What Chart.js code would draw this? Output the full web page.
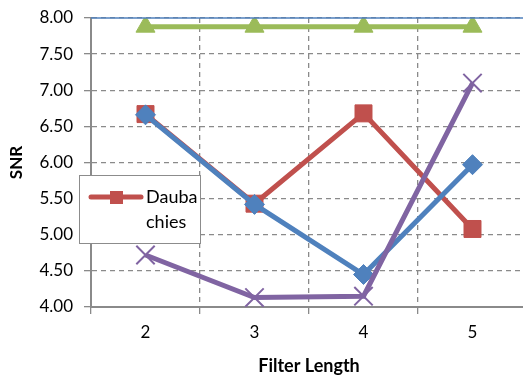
<!DOCTYPE html>
<html>
<head>
<meta charset="utf-8">
<script src="https://cdn.jsdelivr.net/npm/chart.js@4/dist/chart.umd.min.js"></script>
<style>
  html, body { margin: 0; padding: 0; background: #fff; overflow: hidden; }
  #wrap { position: relative; width: 523px; height: 377px; overflow: hidden; }
</style>
</head>
<body>
<div id="wrap"><canvas id="c" width="527" height="377"></canvas></div>
<script>
// Filter lengths on the x axis
const filterLengths = ['2', '3', '4', '5'];

// SNR per filter length for each wavelet family
const seriesDiamond = [6.66, 5.42, 4.45, 5.97];
const seriesDaubachies = [6.67, 5.43, 6.68, 5.08];
const seriesTriangle = [7.88, 7.88, 7.88, 7.88];
const seriesCross = [4.72, 4.13, 4.15, 7.10];

const legendLabel = ['Dauba', 'chies'];

const BLUE = '#4F81BD', RED = '#C0504D', GREEN = '#9BBB59', PURPLE = '#8064A2';
const FONT = "Lato, 'Open Sans', 'Liberation Sans', sans-serif";

// Boxed legend sitting inside the plot on the left
const insideLegend = {
  id: 'insideLegend',
  afterDraw(chart) {
    const ctx = chart.ctx;
    ctx.save();
    ctx.fillStyle = '#fff';
    ctx.fillRect(79, 175, 121, 68);
    ctx.strokeStyle = '#8c8c8c';
    ctx.lineWidth = 1;
    ctx.strokeRect(79.5, 175.5, 121, 68);
    ctx.strokeStyle = RED;
    ctx.lineWidth = 5;
    ctx.lineCap = 'round';
    ctx.beginPath();
    ctx.moveTo(91, 197);
    ctx.lineTo(141, 197);
    ctx.stroke();
    ctx.fillStyle = RED;
    ctx.fillRect(110, 191, 13, 13);
    ctx.fillStyle = '#000';
    ctx.font = '18px ' + FONT;
    ctx.textBaseline = 'middle';
    ctx.textAlign = 'left';
    ctx.fillText(legendLabel[0], 146, 197);
    ctx.fillText(legendLabel[1], 146, 222);
    ctx.restore();
  }
};

// Plot area border line along the top (8.00) edge
const topEdge = {
  id: 'topEdge',
  afterDatasetsDraw(chart) {
    const { ctx, chartArea } = chart;
    const y = chart.scales.y.getPixelForValue(8);
    ctx.save();
    ctx.strokeStyle = BLUE;
    ctx.lineWidth = 1.5;
    ctx.beginPath();
    ctx.moveTo(chartArea.left, y);
    ctx.lineTo(chartArea.right, y);
    ctx.stroke();
    ctx.restore();
  }
};

const common = { borderWidth: 5, pointBorderWidth: 1, tension: 0, fill: false };

new Chart(document.getElementById('c'), {
  type: 'line',
  data: {
    labels: filterLengths,
    datasets: [
      Object.assign({}, common, {
        label: 'Cross', data: seriesCross, order: 0,
        borderColor: PURPLE, backgroundColor: PURPLE,
        pointStyle: 'crossRot', pointRadius: 13, pointBorderWidth: 2, pointBorderColor: PURPLE
      }),
      Object.assign({}, common, {
        label: 'Triangle', data: seriesTriangle, order: 1,
        borderColor: GREEN, backgroundColor: GREEN,
        pointStyle: 'triangle', pointRadius: 11, pointBorderColor: GREEN
      }),
      Object.assign({}, common, {
        label: 'Diamond', data: seriesDiamond, order: 2,
        borderColor: BLUE, backgroundColor: BLUE,
        pointStyle: 'rectRot', pointRadius: 10, pointBorderColor: BLUE
      }),
      Object.assign({}, common, {
        label: 'Daubachies', data: seriesDaubachies, order: 3,
        borderColor: RED, backgroundColor: RED,
        pointStyle: 'rect', pointRadius: 12, pointBorderColor: RED
      })
    ]
  },
  options: {
    responsive: false,
    animation: false,
    layout: { autoPadding: false, padding: { left: 0, top: 18, right: 0, bottom: 0 } },
    plugins: { legend: { display: false }, tooltip: { enabled: false } },
    scales: {
      x: {
        offset: true,
        afterFit: s => { s.height = 70; s.paddingLeft = 0; s.paddingRight = 0; },
        grid: {
          offset: true,
          color: '#8a8a8a',
          lineWidth: 1.3,
          tickLength: 7,
          tickColor: '#8a8a8a',
          tickBorderDash: []
        },
        border: { display: true, color: '#8a8a8a', width: 2, dash: [5, 4] },
        ticks: { color: '#000', font: { family: FONT, size: 17 }, padding: 8 },
        title: {
          display: true, text: 'Filter Length', color: '#000',
          font: { family: FONT, size: 18, weight: 'bold' }, padding: { top: 6, bottom: 0 }
        }
      },
      y: {
        min: 4, max: 8,
        afterFit: s => {
          s.width = 91;
          s.paddingTop = 0; s.paddingBottom = 0;
        },
        ticks: {
          stepSize: 0.5, color: '#000', padding: 11,
          font: { family: FONT, size: 17 },
          callback: v => Number(v).toFixed(2)
        },
        grid: {
          color: '#8a8a8a',
          lineWidth: 1.3,
          tickLength: 7,
          tickColor: '#8a8a8a',
          tickBorderDash: []
        },
        border: { display: true, color: '#8a8a8a', width: 2, dash: [5, 4] },
        title: {
          display: true, text: 'SNR', color: '#000',
          font: { family: FONT, size: 17, weight: 'bold' }, padding: { top: 6, bottom: 0 }
        }
      }
    }
  },
  plugins: [topEdge, insideLegend]
});
</script>
</body>
</html>
